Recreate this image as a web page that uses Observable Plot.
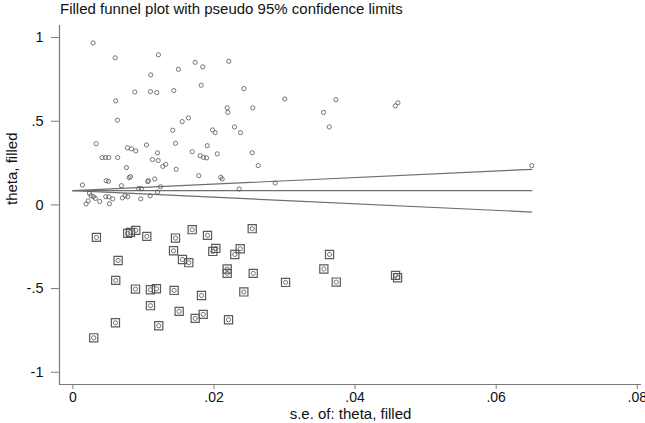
<!DOCTYPE html>
<html>
<head>
<meta charset="utf-8">
<script src="https://cdn.jsdelivr.net/npm/d3@7"></script>
<script src="https://cdn.jsdelivr.net/npm/@observablehq/plot@0.6"></script>
<style>
  html, body { margin: 0; padding: 0; background: #fff; }
  body { width: 645px; height: 423px; overflow: hidden; font-family: "Liberation Sans", Arial, sans-serif; }
  #title { height: 20px; font-size: 15px; line-height: 15px; padding-left: 60px; padding-top: 1px; box-sizing: border-box; color: #111; white-space: nowrap; }
  #chart svg { display: block; }
</style>
</head>
<body>
<div id="title">Filled funnel plot with pseudo 95% confidence limits</div>
<div id="chart"></div>
<script>
// Observed studies: standard error and effect (theta)
const seObs = [0.00287,0.00599,0.01213,0.01104,0.01496,0.01733,0.01841,0.0221,0.01818,0.00877,
  0.01099,0.01189,0.0143,0.00607,0.02187,0.02196,0.00631,0.01638,0.01549,0.01416,
  0.01979,0.02017,0.00329,0.00773,0.0083,0.00891,0.01043,0.01454,0.01904,0.00414,
  0.00461,0.00508,0.00635,0.01199,0.01128,0.01209,0.01691,0.01804,0.01851,0.01894,
  0.02045,0.00759,0.01274,0.01316,0.01464,0.00797,0.00816,0.00471,0.00504,0.01061,
  0.01071,0.0116,0.01784,0.02096,0.02116,0.00135,0.00688,0.00933,0.00972,0.01241,
  0.01199,0.00234,0.00258,0.00291,0.00319,0.00465,0.00508,0.00565,0.00702,0.0074,
  0.00777,0.00962,0.01095,0.0038,0.00518,0.00187,0.00216,0.02423,0.03004,0.03728,
  0.0255,0.03553,0.03634,0.0457,0.04607,0.02291,0.02376,0.02542,0.02627,0.02868,
  0.02357,0.06504];
const thetaObs = [0.968,0.879,0.897,0.777,0.810,0.852,0.825,0.858,0.715,0.675,
  0.677,0.671,0.683,0.622,0.580,0.553,0.506,0.520,0.498,0.446,
  0.448,0.432,0.366,0.341,0.335,0.323,0.358,0.368,0.354,0.283,
  0.283,0.283,0.283,0.311,0.271,0.265,0.318,0.294,0.284,0.281,
  0.305,0.223,0.230,0.242,0.213,0.163,0.169,0.145,0.141,0.139,
  0.145,0.155,0.175,0.165,0.155,0.119,0.115,0.099,0.097,0.109,
  0.077,0.069,0.055,0.049,0.039,0.049,0.048,0.036,0.042,0.055,
  0.049,0.036,0.054,0.021,0.007,0.006,0.024,0.695,0.633,0.629,
  0.580,0.553,0.466,0.592,0.610,0.466,0.432,0.312,0.235,0.131,
  0.095,0.235];
// Filled (imputed) studies
const seFill = [0.00333,0.00777,0.00816,0.00891,0.01047,0.01691,0.01908,0.01454,0.01426,0.01983,
  0.02026,0.00641,0.01553,0.01643,0.02187,0.02187,0.00607,0.00887,0.01099,0.01184,
  0.01435,0.01823,0.01099,0.01506,0.01733,0.01847,0.02206,0.00603,0.01217,0.00295,
  0.02542,0.02372,0.02295,0.02556,0.03014,0.03638,0.03557,0.03733,0.04574,0.04603,
  0.02423];
const thetaFill = [-0.194,-0.170,-0.164,-0.152,-0.188,-0.148,-0.182,-0.198,-0.274,-0.278,
  -0.260,-0.332,-0.326,-0.345,-0.383,-0.409,-0.451,-0.503,-0.507,-0.501,
  -0.511,-0.541,-0.602,-0.636,-0.678,-0.654,-0.686,-0.704,-0.722,-0.794,
  -0.142,-0.262,-0.296,-0.409,-0.463,-0.296,-0.383,-0.461,-0.421,-0.435,
  -0.520];
const thetaPooled = 0.085;
const zCrit = 1.96;
const xTicks = [0, 0.02, 0.04, 0.06, 0.08];
const xTickLabels = ["0", ".02", ".04", ".06", ".08"];
const yTicks = [-1, -0.5, 0, 0.5, 1];
const yTickLabels = ["-1", "-.5", "0", ".5", "1"];
const xDomain = [-0.0019, 0.0806];
const yDomain = [-1.073, 1.072];

const obs = seObs.map((s, i) => ({se: s, theta: thetaObs[i]}));
const fill = seFill.map((s, i) => ({se: s, theta: thetaFill[i]}));
const allPts = obs.concat(fill);
const seMax = d3.max(allPts, d => d.se);
const funnel = [];
for (const [name, k] of [["upper", 1], ["center", 0], ["lower", -1]]) {
  funnel.push({name, se: 0, theta: thetaPooled});
  funnel.push({name, se: seMax, theta: thetaPooled + k * zCrit * seMax});
}

const axisColor = "#7a7a7a";
const chart = Plot.plot({
  width: 645,
  height: 403,
  marginLeft: 59,
  marginRight: 4,
  marginTop: 5,
  marginBottom: 39,
  style: {fontFamily: "'Liberation Sans', Arial, sans-serif", fontSize: "14px", color: "#111", background: "#fff"},
  x: {domain: xDomain},
  y: {domain: yDomain},
  marks: [
    Plot.ruleX([xDomain[0]], {stroke: axisColor, strokeWidth: 1.2}),
    Plot.ruleY([yDomain[0]], {stroke: axisColor, strokeWidth: 1.2}),
    Plot.axisX({ticks: xTicks, tickFormat: (d) => xTickLabels[xTicks.indexOf(d)], tickSize: 5, tickPadding: 3, stroke: axisColor, fill: "#111", fontSize: 14, label: null}),
    Plot.axisY({ticks: yTicks, tickFormat: (d) => yTickLabels[yTicks.indexOf(d)], tickSize: 8, tickPadding: 8, stroke: axisColor, fill: "#111", fontSize: 14.5, label: null}),
    Plot.text(["theta, filled"], {frameAnchor: "left", dx: -47, rotate: -90, fontSize: 15, fill: "#111"}),
    Plot.text(["s.e. of: theta, filled"], {frameAnchor: "bottom", dy: 30, lineAnchor: "middle", fontSize: 15, fill: "#111"}),
    Plot.line(funnel, {x: "se", y: "theta", z: "name", stroke: "#6e6e6e", strokeWidth: 1.2}),
    Plot.dot(fill, {x: "se", y: "theta", symbol: "square", r: 4.6, stroke: "#5a5a5a", strokeWidth: 1.2, fill: "none"}),
    Plot.dot(allPts, {x: "se", y: "theta", r: 2.1, stroke: "#555", strokeWidth: 0.8, fill: "none"})
  ]
});
document.getElementById("chart").appendChild(chart);
</script>
</body>
</html>
